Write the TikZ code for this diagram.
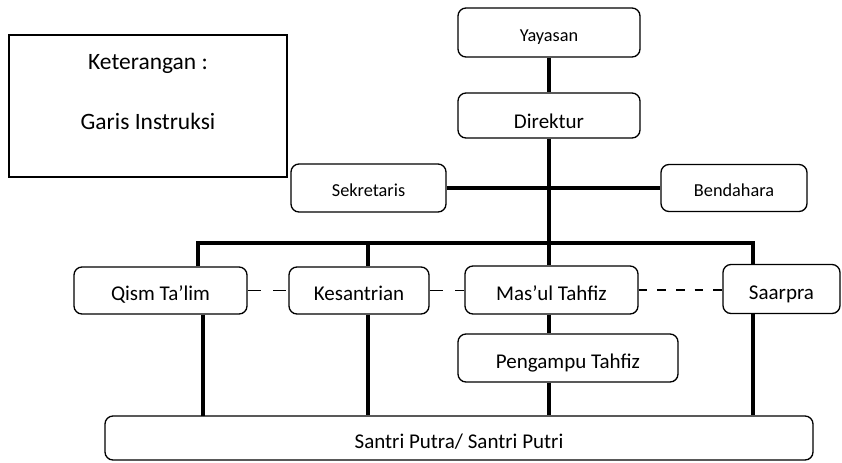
\documentclass[tikz,border=0pt]{standalone}
\usepackage{fontspec}
\setmainfont{Carlito}
\usepackage{tikz}

\tikzset{
    kotak/.style={draw, line width=1pt, rounded corners=6pt, inner sep=0pt},
    besar/.style={font=\fontsize{15.75}{18}\selectfont, text height=15pt, text depth=0pt},
    kecil/.style={font=\fontsize{13.7}{16}\selectfont, text height=13pt, text depth=0pt},
    garis/.style={line width=3pt},
    putus/.style={line width=1.4pt, dash pattern=on 10pt off 9pt},
    putuspanjang/.style={line width=1.4pt, dash pattern=on 6.5pt off 7.5pt},
}

\begin{document}
\begin{tikzpicture}[x=0.75pt, y=-0.75pt]
    \useasboundingbox (0,0) rectangle (842,462);

    % Keterangan
    \node[draw, line width=1.5pt, minimum width=208.5pt, minimum height=106.5pt] (ket) at (148,106) {};
    \node[font=\fontsize{17.6}{20}\selectfont, anchor=base] (ketjudul) at (148,69) {Keterangan :};
    \node[font=\fontsize{17.6}{20}\selectfont, anchor=base] (ketgaris) at (148,129) {Garis Instruksi};

    % Pimpinan
    \node[kotak, kecil, minimum width=136.5pt, minimum height=36.75pt] (yayasan) at (549,32.5) {Yayasan};
    \node[kotak, besar, text height=19pt, minimum width=136.5pt, minimum height=33.75pt] (direktur) at (549,115.5) {Direktur};
    \node[kotak, kecil, minimum width=116.25pt, minimum height=36pt] (sekretaris) at (368.5,188) {Sekretaris};
    \node[kotak, kecil, minimum width=109.5pt, minimum height=35.25pt] (bendahara) at (734,188) {Bendahara};

    % Bagian
    \node[kotak, besar, minimum width=129.75pt, minimum height=35.25pt] (qism) at (160.5,290.5) {Qism Ta’lim};
    \node[kotak, besar, minimum width=105pt, minimum height=35.25pt] (kesantrian) at (359,290.5) {Kesantrian};
    \node[kotak, besar, minimum width=129.75pt, minimum height=36pt] (masul) at (551.5,290) {Mas’ul Tahfiz};
    \node[kotak, besar, minimum width=87.75pt, minimum height=36.75pt] (saarpra) at (781.5,289) {Saarpra};
    \node[kotak, besar, minimum width=165pt, minimum height=36pt] (pengampu) at (568,358) {Pengampu Tahfiz};
    \node[kotak, besar, minimum width=531pt, minimum height=33pt] (santri) at (459,438) {Santri Putra/ Santri Putri};

    % Titik bantu garis
    \coordinate (b1) at (198,243);
    \coordinate (b2) at (368,243);
    \coordinate (b4) at (753,243);
    \coordinate (t1) at (203,416);

    % Garis instruksi
    \draw[garis] (yayasan) -- (direktur);
    \draw[garis] (direktur.south) -- (direktur.south |- masul.north);
    \draw[garis] (sekretaris.east) -- (sekretaris.east -| bendahara.west);
    \draw[garis] (b1 |- qism.north) -- (b1) -- (b4) -- (b4 |- saarpra.north);
    \draw[garis] (b2) -- (b2 |- kesantrian.north);
    \draw[garis] (direktur.south |- masul.south) -- (direktur.south |- pengampu.north);
    \draw[garis] (direktur.south |- pengampu.south) -- (direktur.south |- santri.north);
    \draw[garis] (t1 |- qism.south) -- (t1);
    \draw[garis] (b2 |- kesantrian.south) -- (b2 |- santri.north);
    \draw[garis] (b4 |- saarpra.south) -- (b4 |- santri.north);

    % Garis koordinasi
    \draw[putus] (qism.east) -- (kesantrian.west);
    \draw[putus] (kesantrian.east) -- (kesantrian.east -| masul.west);
    \draw[putuspanjang] (masul.east) -- (masul.east -| saarpra.west);
\end{tikzpicture}
\end{document}
